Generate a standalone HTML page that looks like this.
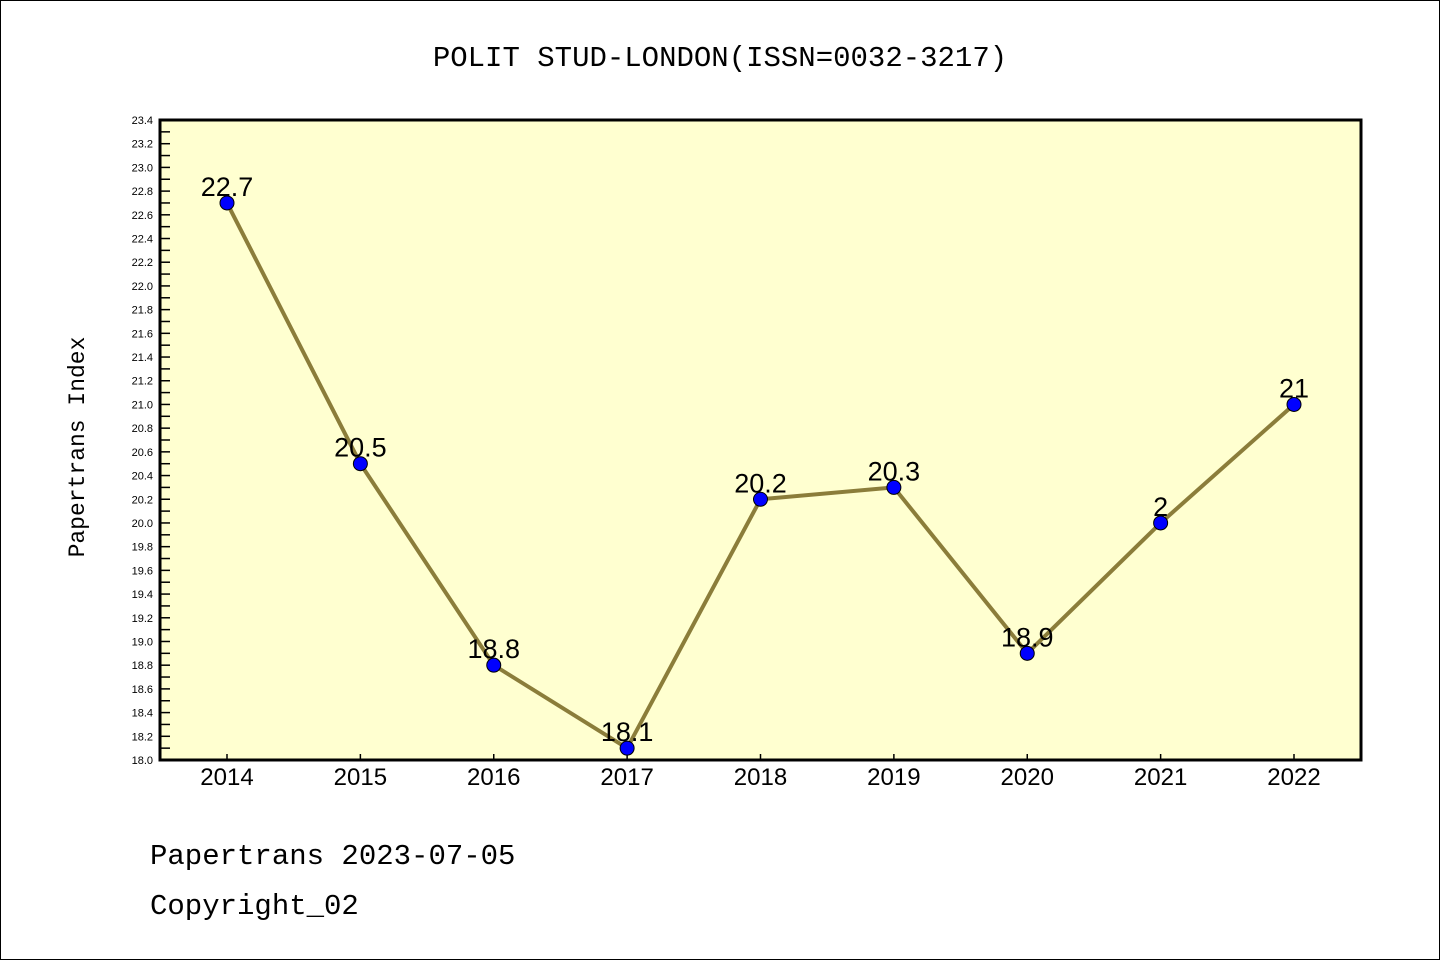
<!DOCTYPE html>
<html><head><meta charset="utf-8"><style>
html,body{margin:0;padding:0;background:#fff}
svg{display:block}
text{font-family:"Liberation Mono","DejaVu Sans Mono",monospace}
</style></head><body>
<svg id="chart" width="1440" height="960">
<rect x="0.5" y="0.5" width="1439" height="959" fill="#fff" stroke="#000"/>
<text x="720" y="66" font-size="29" text-anchor="middle">POLIT STUD-LONDON(ISSN=0032-3217)</text>
<rect x="160" y="120" width="1201" height="640" fill="#ffffd0"/>
<g id="axes"></g>
<g id="series"></g>
<rect x="160" y="120" width="1201" height="640" fill="none" stroke="#000" stroke-width="3"/>
<text transform="translate(84,447) rotate(-90)" font-size="23" text-anchor="middle">Papertrans Index</text>
<text x="150" y="864" font-size="29">Papertrans 2023-07-05</text>
<text x="150" y="914" font-size="29">Copyright_02</text>
</svg>
<script>
const categories=["2014","2015","2016","2017","2018","2019","2020","2021","2022"];
const values=[22.7,20.5,18.8,18.1,20.2,20.3,18.9,20.0,21.0];
const valueLabels=["22.7","20.5","18.8","18.1","20.2","20.3","18.9","2","21"];
const yMin=18.0,yMax=23.4;
const NS="http://www.w3.org/2000/svg";
const L=160,R=1361,T=120,B=760;
function x(i){return 227+i*(1294-227)/(categories.length-1);}
function y(v){return B-(v-yMin)/(yMax-yMin)*(B-T);}
function mk(tag,attrs,parent){const e=document.createElementNS(NS,tag);for(const k in attrs)e.setAttribute(k,attrs[k]);parent.appendChild(e);return e;}
const axes=document.getElementById('axes'),ser=document.getElementById('series');
const nT=Math.round((yMax-yMin)/0.1);
for(let k=0;k<=nT;k++){
  const v=yMin+k*0.1,yy=y(v);
  const t=mk('line',{x1:L,x2:L+10,y1:yy,y2:yy,stroke:'#000','stroke-width':1.5},axes);
  
  
  if(k%2===0){
    const lb=mk('text',{x:153,y:yy+4,'font-size':11,'text-anchor':'end',style:'font-family:"Liberation Sans",sans-serif'},axes);
    lb.textContent=v.toFixed(1);
    
    
  }
}
categories.forEach((c,i)=>{
  const t=mk('line',{x1:x(i),x2:x(i),y1:B,y2:B-6,stroke:'#000','stroke-width':1.5},axes);
  
  
  const lb=mk('text',{x:x(i),y:785,'font-size':24,'text-anchor':'middle',style:'font-family:"Liberation Sans",sans-serif'},axes);
  lb.textContent=c;
  
  
});
const line=mk('polyline',{points:values.map((v,i)=>x(i)+','+y(v)).join(' '),fill:'none',stroke:'#8b7d3a','stroke-width':4},ser);


values.forEach((v,i)=>{
  const c=mk('circle',{cx:x(i),cy:y(v),r:7,fill:'#0000ff',stroke:'#000','stroke-width':1},ser);
  
  
  const t=mk('text',{x:x(i),y:y(v)-7,'font-size':27,'text-anchor':'middle',style:'font-family:"Liberation Sans",sans-serif'},ser);
  t.textContent=valueLabels[i];
  
  
});
</script>
</body></html>
